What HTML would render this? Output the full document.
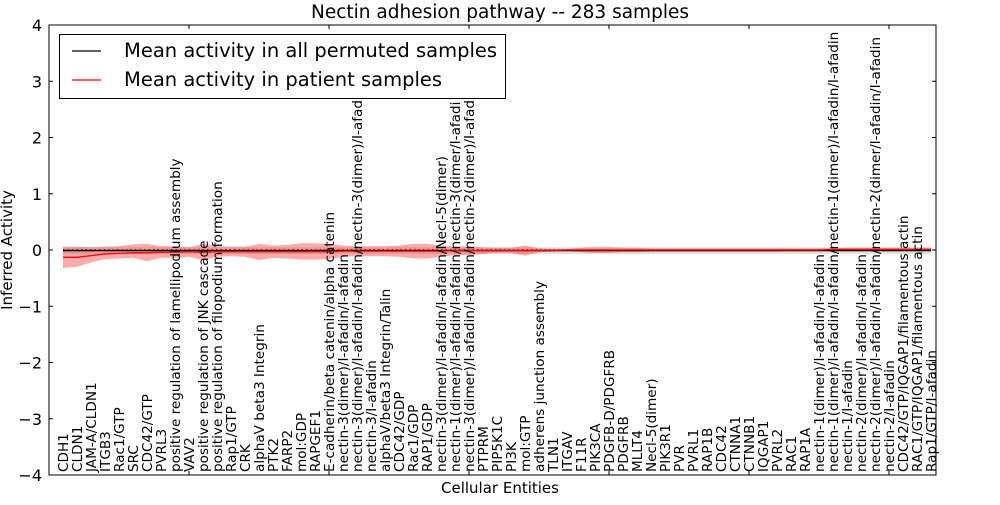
<!DOCTYPE html>
<html><head><meta charset="utf-8"><style>
body{margin:0;background:#fff;}
svg text{font-family:"DejaVu Sans","Liberation Sans",sans-serif;}
</style></head><body>
<svg id="chart" width="1000" height="500" xmlns="http://www.w3.org/2000/svg">
<rect width="1000" height="500" fill="#fff"/>
<g id="bands"></g><g id="lines"></g><g id="labels"></g><g id="axes"></g>
<text x="500" y="18" font-size="18.5" text-anchor="middle">Nectin adhesion pathway -- 283 samples</text>
<text x="500" y="493" font-size="15" text-anchor="middle">Cellular Entities</text>
<text transform="translate(12,250) rotate(-90)" font-size="15" text-anchor="middle">Inferred Activity</text>
<g>
<rect x="59.5" y="34.5" width="446" height="64" fill="#fff" stroke="#000" stroke-width="1"/>
<line x1="72" y1="51" x2="101" y2="51" stroke="#000" stroke-width="1.2"/>
<text x="124" y="57" font-size="19.5">Mean activity in all permuted samples</text>
<line x1="72" y1="80" x2="101" y2="80" stroke="#f00" stroke-width="1.2"/>
<text x="124" y="86" font-size="19.5">Mean activity in patient samples</text>
</g>
</svg>
<script>
const categories=["CDH1","CLDN1","JAM-A/CLDN1","ITGB3","Rac1/GTP","SRC","CDC42/GTP","PVRL3","positive regulation of lamellipodium assembly","VAV2","positive regulation of JNK cascade","positive regulation of filopodium formation","Rap1/GTP","CRK","alphaV beta3 Integrin","PTK2","FARP2","mol:GDP","RAPGEF1","E-cadherin/beta catenin/alpha catenin","nectin-3(dimer)/I-afadin/I-afadin","nectin-3(dimer)/I-afadin/I-afadin/nectin-3(dimer)/I-afad","nectin-3/I-afadin","alphaV/beta3 Integrin/Talin","CDC42/GDP","Rac1/GDP","RAP1/GDP","nectin-3(dimer)/I-afadin/I-afadin/Necl-5(dimer)","nectin-1(dimer)/I-afadin/I-afadin/nectin-3(dimer/I-afadi","nectin-3(dimer)/I-afadin/I-afadin/nectin-2(dimer)/I-afad","PTPRM","PIP5K1C","PI3K","mol:GTP","adherens junction assembly","TLN1","ITGAV","F11R","PIK3CA","PDGFB-D/PDGFRB","PDGFRB","MLLT4","Necl-5(dimer)","PIK3R1","PVR","PVRL1","RAP1B","CDC42","CTNNA1","CTNNB1","IQGAP1","PVRL2","RAC1","RAP1A","nectin-1(dimer)/I-afadin/I-afadin","nectin-1(dimer)/I-afadin/I-afadin/nectin-1(dimer)/I-afadin/I-afadin","nectin-1/I-afadin","nectin-2(dimer)/I-afadin/I-afadin","nectin-2(dimer)/I-afadin/I-afadin/nectin-2(dimer/I-afadin/I-afadin","nectin-2/I-afadin","CDC42/GTP/IQGAP1/filamentous actin","RAC1/GTP/IQGAP1/filamentous actin","Rap1/GTP/I-afadin"];
const patientMean=[-0.13,-0.13,-0.1,-0.07,-0.06,-0.05,-0.05,-0.04,-0.04,-0.03,-0.04,-0.03,-0.03,-0.03,-0.03,-0.03,-0.03,-0.03,-0.03,-0.03,-0.02,-0.02,-0.02,-0.02,-0.02,-0.02,-0.02,-0.02,-0.01,-0.01,-0.01,-0.01,-0.01,-0.01,-0.01,-0.01,0,0,0,0,0,0,0,0,0,0,0,0,0,0,0,0,0,0,0,0.01,0.01,0.01,0.01,0.01,0.01,0.01,0.01];
const patientUpper=[0.06,0.06,0.05,0.06,0.07,0.1,0.11,0.07,0.07,0.05,0.11,0.07,0.06,0.06,0.11,0.08,0.09,0.12,0.12,0.11,0.08,0.07,0.07,0.07,0.08,0.11,0.11,0.08,0.06,0.07,0.05,0.04,0.04,0.08,0.03,0.02,0.02,0.04,0.05,0.05,0.04,0.04,0.03,0.03,0.03,0.03,0.03,0.03,0.03,0.03,0.03,0.03,0.03,0.03,0.03,0.03,0.04,0.04,0.04,0.04,0.04,0.04,0.04];
const patientLower=[-0.32,-0.3,-0.22,-0.16,-0.15,-0.14,-0.2,-0.14,-0.14,-0.12,-0.18,-0.12,-0.11,-0.12,-0.18,-0.14,-0.15,-0.17,-0.17,-0.16,-0.12,-0.11,-0.11,-0.11,-0.12,-0.15,-0.15,-0.12,-0.09,-0.09,-0.07,-0.05,-0.05,-0.1,-0.04,-0.03,-0.02,-0.04,-0.05,-0.05,-0.04,-0.04,-0.03,-0.03,-0.03,-0.03,-0.03,-0.03,-0.03,-0.03,-0.03,-0.03,-0.02,-0.02,-0.02,-0.02,-0.02,-0.02,-0.02,-0.02,-0.02,-0.02,-0.02];
const permMean=[-0.01,-0.01,-0.01,-0.01,-0.01,-0.01,-0.01,-0.01,-0.01,-0.01,-0.01,-0.01,-0.01,-0.01,-0.01,-0.01,-0.01,-0.01,-0.01,-0.01,-0.01,-0.01,-0.01,-0.01,-0.01,-0.01,-0.01,-0.01,-0.01,-0.01,-0.01,-0.01,-0.01,-0.01,-0.01,-0.01,-0.01,-0.01,-0.01,-0.01,-0.01,-0.01,-0.01,-0.01,-0.01,-0.01,-0.01,-0.01,-0.01,-0.01,-0.01,-0.01,-0.01,-0.01,-0.01,-0.01,-0.01,-0.01,-0.01,-0.01,-0.01,-0.01,-0.01];
const permSpread=[0.06,0.06,0.06,0.06,0.06,0.06,0.06,0.06,0.06,0.06,0.06,0.06,0.06,0.06,0.06,0.06,0.06,0.06,0.06,0.06,0.06,0.06,0.06,0.06,0.06,0.06,0.06,0.06,0.06,0.06,0.06,0.06,0.06,0.06,0.06,0.06,0.06,0.06,0.06,0.06,0.06,0.06,0.06,0.06,0.06,0.06,0.06,0.06,0.06,0.06,0.06,0.06,0.06,0.06,0.06,0.06,0.06,0.06,0.06,0.06,0.06,0.06,0.06];
const yTicks=[-4,-3,-2,-1,0,1,2,3,4];
const xTicks=[10,20,30,40,50,60];
const L=49,R=936,T=25,B=475;
const xs=v=>L+(v)*(R-L)/63.36;
const ys=v=>T+(4-v)*(B-T)/8;
const NS="http://www.w3.org/2000/svg";
function mk(tag,parent,attrs){const e=document.createElementNS(NS,tag);for(const k in attrs)e.setAttribute(k,attrs[k]);parent.appendChild(e);return e;}
const bands=document.getElementById('bands'),lines=document.getElementById('lines'),labels=document.getElementById('labels'),axes=document.getElementById('axes');
function area(up,lo,fill,op,name){let d='';up.forEach((v,i)=>{d+=(i?'L':'M')+xs(i+1)+','+ys(v);});for(let i=lo.length-1;i>=0;i--)d+='L'+xs(i+1)+','+ys(lo[i]);d+='Z';
const p=mk('path',bands,{d:d,fill:fill,'fill-opacity':op});

}
area(permMean.map((m,i)=>m+permSpread[i]),permMean.map((m,i)=>m-permSpread[i]),'#bbb',0.45,'permuted-band');
area(patientUpper,patientLower,'#f00',0.33,'patient-band');
function line(arr,col,dash,name){const p=mk('polyline',lines,{points:arr.map((v,i)=>xs(i+1)+','+ys(v)).join(' '),fill:'none',stroke:col,'stroke-width':1.3});if(dash)p.setAttribute('stroke-dasharray',dash);

}
line(permMean.map(()=>0),'#000','1.5,3','zero-line');
line(permMean,'#000',null,'permuted-mean-line');
line(patientMean,'#f00',null,'patient-mean-line');
categories.forEach((c,i)=>{const x=xs(i+1)+5;const t=mk('text',labels,{transform:'translate('+x+','+(B-3)+') rotate(-90)','font-size':13.6});t.textContent=c;

});
mk('rect',axes,{x:L,y:T,width:R-L,height:B-T,fill:'none',stroke:'#000','stroke-width':1});
yTicks.forEach(v=>{mk('line',axes,{x1:L,x2:L+4,y1:ys(v),y2:ys(v),stroke:'#000'});mk('line',axes,{x1:R,x2:R-4,y1:ys(v),y2:ys(v),stroke:'#000'});
const t=mk('text',axes,{x:L-7,y:ys(v)+6,'font-size':16,'text-anchor':'end'});t.textContent=(v<0?'\u2212'+(-v):v);

});
xTicks.forEach(v=>{mk('line',axes,{x1:xs(v),x2:xs(v),y1:T,y2:T+4,stroke:'#000'});mk('line',axes,{x1:xs(v),x2:xs(v),y1:B,y2:B-4,stroke:'#000'});});
</script>
</body></html>
